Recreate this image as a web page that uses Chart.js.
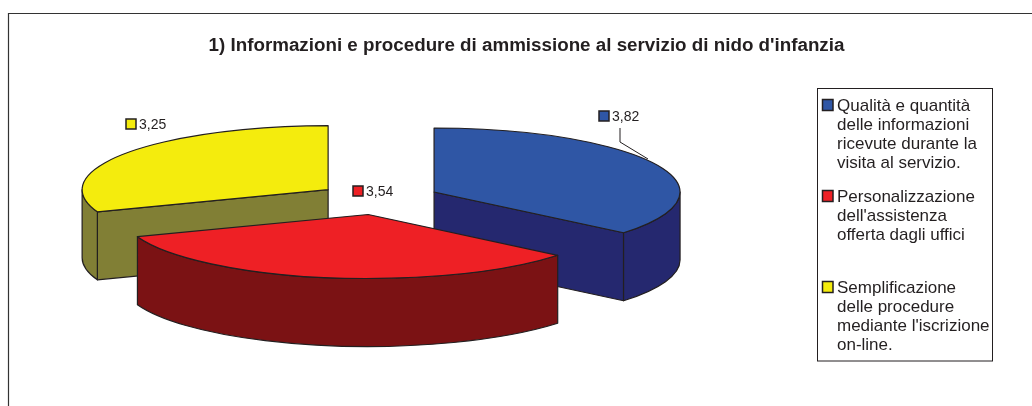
<!DOCTYPE html>
<html>
<head>
<meta charset="utf-8">
<style>html,body{margin:0;padding:0;background:#fff;overflow:hidden}canvas{display:block}</style>
<script src="https://cdn.jsdelivr.net/npm/chart.js@4/dist/chart.umd.min.js"></script>
</head>
<body>
<canvas id="c" width="1032" height="406"></canvas>
<script>
const titleText = "1) Informazioni e procedure di ammissione al servizio di nido d'infanzia";
const legendLines = [
  ["Qualità e quantità", "delle informazioni", "ricevute durante la", "visita al servizio."],
  ["Personalizzazione", "dell'assistenza", "offerta dagli uffici"],
  ["Semplificazione", "delle procedure", "mediante l'iscrizione", "on-line."]
];
const categories = legendLines.map(l => l.join(" "));
const values = [3.82, 3.54, 3.25];
const topColors = ["#2f56a5", "#ee2025", "#f4ec0d"];
const wallColors = ["#25286f", "#7b1214", "#817f35"];

const INK = "#231f20", FONT = '"Liberation Sans", Arial, sans-serif';
const SQUASH = 0.26, DEPTH = 68, RADIUS = 246, EXPLODE = 61.4;
const labelSwatchAt = [[599, 111], [353, 186], [126, 119]];

function swatch(ctx, x, y, w, h, color) {
  ctx.fillStyle = color; ctx.strokeStyle = INK; ctx.lineWidth = 1.5;
  ctx.fillRect(x, y, w, h); ctx.strokeRect(x, y, w, h);
}

const frameAndLegend = {
  position: "right", weight: 0, fullSize: false, options: {},
  isHorizontal() { return false; },
  update(w, h) { this.width = 296; this.height = h; },
  draw() {
    const ctx = this.ctx;
    ctx.save();
    ctx.strokeStyle = "#333"; ctx.lineWidth = 1.2;
    ctx.beginPath(); ctx.moveTo(8.5, 406); ctx.lineTo(8.5, 13.5); ctx.lineTo(1032, 13.5); ctx.stroke();
    ctx.strokeStyle = INK; ctx.lineWidth = 1;
    ctx.strokeRect(817.5, 88.5, 175, 272.5);
    ctx.font = "17px " + FONT; ctx.textBaseline = "alphabetic"; ctx.textAlign = "left";
    legendLines.forEach((lines, i) => {
      const base = 111 + i * 91;
      swatch(ctx, 822.5, base - 11.5, 10.5, 11, topColors[i]);
      ctx.fillStyle = INK;
      lines.forEach((t, j) => ctx.fillText(t, 837, base + j * 19));
    });
    ctx.restore();
  }
};

const pie3d = {
  id: "pie3d",
  beforeInit(chart) {
    frameAndLegend.ctx = chart.ctx;
    Chart.layouts.addBox(chart, frameAndLegend);
  },
  beforeDatasetDraw(chart, args) {
    const ctx = chart.ctx;
    const items = args.meta.data.map((el, i) => {
      const d = el.options.offset / 4;
      const half = (el.startAngle + el.endAngle) / 2;
      el.outerRadius = RADIUS - d * (1 - Math.sin(Math.min(Math.PI, el.circumference)));
      return { el, i, x: el.x + Math.cos(half) * d, y: el.y + Math.sin(half) * d * SQUASH };
    }).sort((a, b) => a.y - b.y);
    const ry = RADIUS * SQUASH;
    items.forEach(({ el, i, x, y }) => {
      const a0 = el.startAngle, a1 = el.endAngle;
      ctx.save();
      ctx.lineJoin = "round"; ctx.lineWidth = 1.2; ctx.strokeStyle = INK; ctx.fillStyle = wallColors[i];
      [[a0, -Math.cos(a0)], [a1, Math.cos(a1)]].forEach(([a, facing]) => {
        if (facing <= 1e-6) return;
        const px = x + Math.cos(a) * RADIUS, py = y + Math.sin(a) * ry;
        ctx.beginPath(); ctx.moveTo(x, y); ctx.lineTo(px, py);
        ctx.lineTo(px, py + DEPTH); ctx.lineTo(x, y + DEPTH); ctx.closePath();
        ctx.fill(); ctx.stroke();
      });
      const v0 = Math.max(a0, 0), v1 = Math.min(a1, Math.PI);
      if (v1 > v0) {
        ctx.beginPath();
        ctx.ellipse(x, y, RADIUS, ry, 0, v0, v1);
        ctx.ellipse(x, y + DEPTH, RADIUS, ry, 0, v1, v0, true);
        ctx.closePath(); ctx.fill(); ctx.stroke();
      }
      const face = new Path2D();
      face.moveTo(x, y);
      face.ellipse(x, y, RADIUS, ry, 0, a0, a1);
      face.closePath();
      ctx.save();
      ctx.clip(face);
      ctx.translate(0, el.y); ctx.scale(1, SQUASH); ctx.translate(0, -el.y);
      el.draw(ctx);
      ctx.restore();
      ctx.fillStyle = el.options.backgroundColor;
      ctx.fill(face);
      ctx.stroke(face);
      ctx.restore();
    });
    return false;
  },
  afterDraw(chart) {
    const ctx = chart.ctx;
    ctx.save();
    ctx.strokeStyle = INK; ctx.lineWidth = 1;
    ctx.beginPath(); ctx.moveTo(620, 128); ctx.lineTo(620, 142); ctx.lineTo(648, 159); ctx.stroke();
    ctx.font = "14px " + FONT; ctx.textBaseline = "alphabetic"; ctx.textAlign = "left";
    values.forEach((v, i) => {
      const [sx, sy] = labelSwatchAt[i];
      swatch(ctx, sx, sy, 10, 10, topColors[i]);
      ctx.fillStyle = INK;
      ctx.fillText(v.toFixed(2).replace(".", ","), sx + 13, sy + 10);
    });
    ctx.restore();
  }
};

new Chart(document.getElementById("c"), {
  type: "pie",
  data: {
    labels: categories,
    datasets: [{ data: values, backgroundColor: topColors, borderWidth: 0, offset: EXPLODE * 4 }]
  },
  options: {
    responsive: false,
    animation: false,
    radius: RADIUS,
    layout: { padding: { left: 21, right: 0, top: 0, bottom: 73 } },
    plugins: {
      legend: { display: false },
      tooltip: { enabled: false },
      title: {
        display: true, text: titleText, color: INK,
        font: { family: FONT, size: 18.8, weight: "bold", lineHeight: 1.2 },
        padding: { top: 35, bottom: 7 }
      }
    }
  },
  plugins: [pie3d]
});
</script>
</body>
</html>
